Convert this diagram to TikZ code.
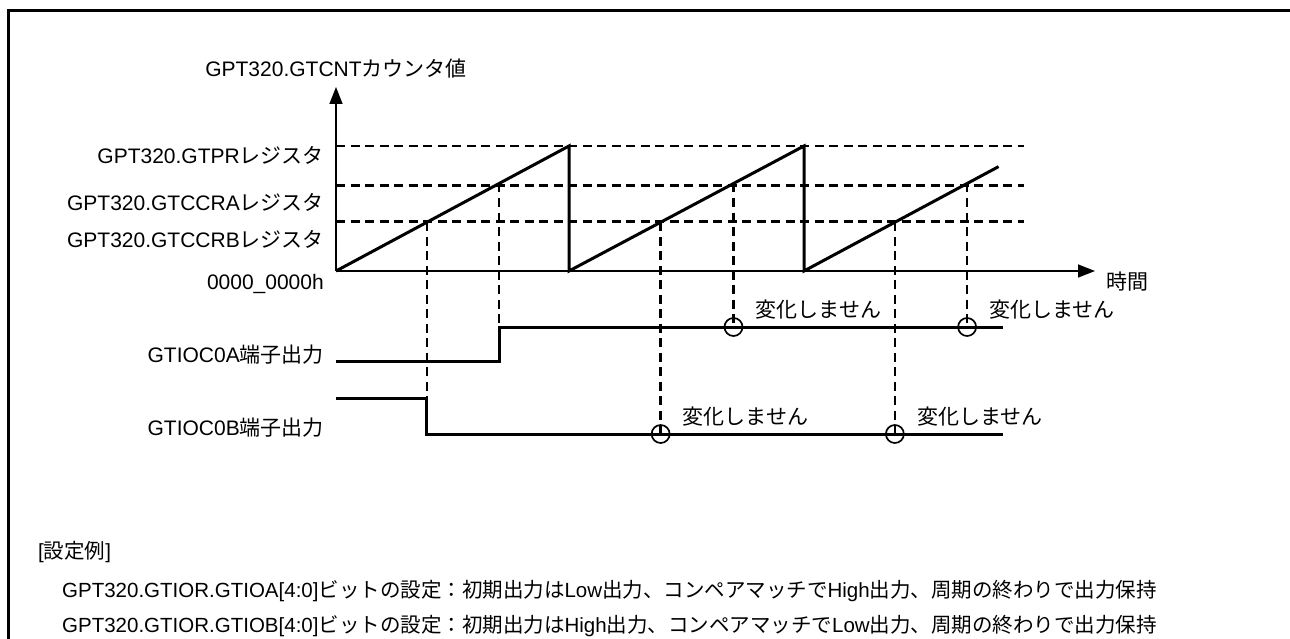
\documentclass[tikz,border=0pt]{standalone}
\usepackage{fontspec}
\setmainfont{Liberation Sans}
\newfontfamily\jpfont{Noto Sans CJK JP}
\newcommand\jp[1]{{\jpfont #1}}
\usetikzlibrary{arrows.meta,calc}

\begin{document}
\begin{tikzpicture}[x=1pt,y=-1pt,
  lbl/.style={font=\fontsize{21}{24}\selectfont,inner sep=0pt},
  note/.style={font=\fontsize{20.5}{24}\selectfont,inner sep=0pt},
  axis/.style={line width=1.5pt,-{Triangle[length=17pt,width=13pt]}},
  wave/.style={line width=3pt,line join=miter},
  guide/.style={line width=2.7pt,dash pattern=on 9pt off 5.5pt},
  holdmark/.style={circle,draw,line width=1.7pt,minimum size=18pt,inner sep=0pt}]
  \useasboundingbox (0,0) rectangle (1290,639);
  \draw[line width=3pt] (8,639) -- (8,11) -- (1290,11);

  \coordinate (o) at (336,271);
  \coordinate (ytip) at (336,87);
  \coordinate (xtip) at (1095,271);
  \draw[axis] (o) -- (ytip);
  \draw[axis] (o) -- (xtip);

  \coordinate (pr) at (336,146);
  \coordinate (ra) at (336,185.5);
  \coordinate (rb) at (336,221.5);
  \draw[guide] (pr) -- ++(688,0);
  \draw[guide] (ra) -- ++(688,0);
  \draw[guide] (rb) -- ++(688,0);

  \node[lbl] (cntlbl) at (336,69) {GPT320.GTCNT\jp{カウンタ値}};
  \node[lbl,anchor=east] (prlbl) at (324,155) {GPT320.GTPR\jp{レジスタ}};
  \node[lbl,anchor=east] (ralbl) at (324,202) {GPT320.GTCCRA\jp{レジスタ}};
  \node[lbl,anchor=east] (rblbl) at (324,239) {GPT320.GTCCRB\jp{レジスタ}};
  \node[lbl,anchor=east] (zlbl) at (324,284) {0000\_0000h};
  \node[lbl,anchor=west] (tlbl) at (1106,282) {\jp{時間}};

  \coordinate (p1) at (569,146);
  \coordinate (d1) at (569,271);
  \coordinate (p2) at (804,146);
  \coordinate (d2) at (804,271);
  \coordinate (p3) at (1037,146);
  \coordinate (e3) at ($(d2)!0.835!(p3)$);
  \draw[wave] (o) -- (p1) -- (d1) -- (p2) -- (d2) -- (e3);

  \coordinate (b1) at ($(o)!0.39!(p1)$);
  \coordinate (a1) at ($(o)!0.70!(p1)$);
  \coordinate (b2) at ($(d1)!0.39!(p2)$);
  \coordinate (a2) at ($(d1)!0.70!(p2)$);
  \coordinate (b3) at ($(d2)!0.39!(p3)$);
  \coordinate (a3) at ($(d2)!0.70!(p3)$);

  \node[lbl,anchor=east] (alb) at (324,355) {GTIOC0A\jp{端子出力}};
  \node[lbl,anchor=east] (blb) at (324,428) {GTIOC0B\jp{端子出力}};
  \coordinate (ast) at (336,361);
  \coordinate (aend) at (1003,327);
  \coordinate (bst) at (336,398);
  \coordinate (bend) at (1003,434);
  \draw[wave] (ast) -- (a1 |- ast) -- (a1 |- aend) -- (aend);
  \draw[wave] (bst) -- (b1 |- bst) -- (b1 |- bend) -- (bend);

  \draw[guide] (b1) -- (b1 |- bst);
  \draw[guide] (a1) -- (a1 |- aend);
  \draw[guide] (a2) -- (a2 |- aend);
  \draw[guide] (a3) -- (a3 |- aend);
  \draw[guide] (b2) -- (b2 |- bend);
  \draw[guide] (b3) -- (b3 |- bend);

  \node[holdmark] (ca2) at (a2 |- aend) {};
  \node[holdmark] (ca3) at (a3 |- aend) {};
  \node[holdmark] (cb2) at (b2 |- bend) {};
  \node[holdmark] (cb3) at (b3 |- bend) {};
  \node[lbl,anchor=west] (na2) at ($(ca2)+(22,-17)$) {\jp{変化しません}};
  \node[lbl,anchor=west] (na3) at ($(ca3)+(22,-17)$) {\jp{変化しません}};
  \node[lbl,anchor=west] (nb2) at ($(cb2)+(22,-17)$) {\jp{変化しません}};
  \node[lbl,anchor=west] (nb3) at ($(cb3)+(22,-17)$) {\jp{変化しません}};

  \node[note,anchor=west] (exlbl) at (38,552) {[\jp{設定例}]};
  \node[note,anchor=west] (exa) at (62,591) {GPT320.GTIOR.GTIOA[4:0]\jp{ビットの設定：初期出力は}Low\jp{出力、コンペアマッチで}High\jp{出力、周期の終わりで出力保持}};
  \node[note,anchor=west] (exb) at (62,626) {GPT320.GTIOR.GTIOB[4:0]\jp{ビットの設定：初期出力は}High\jp{出力、コンペアマッチで}Low\jp{出力、周期の終わりで出力保持}};
\end{tikzpicture}
\end{document}
